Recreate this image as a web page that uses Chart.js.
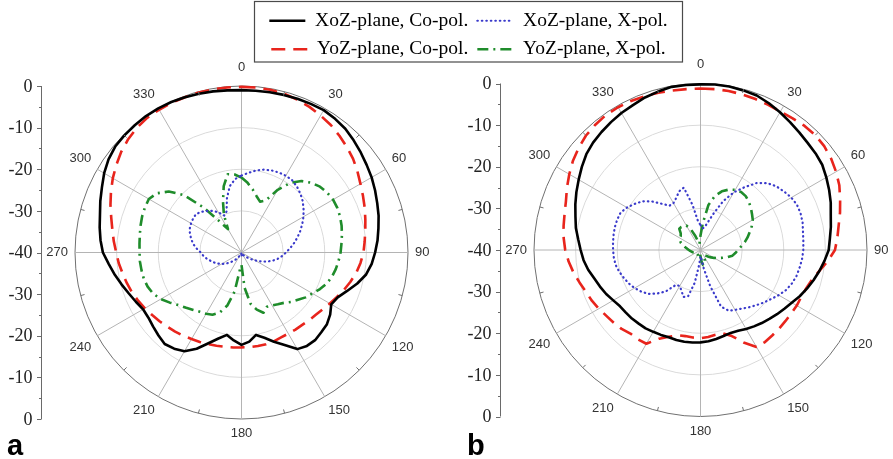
<!DOCTYPE html>
<html>
<head>
<meta charset="utf-8">
<script src="https://cdn.jsdelivr.net/npm/chart.js@4.4.1/dist/chart.umd.min.js"></script>
<style>
html, body {
  margin: 0;
  padding: 0;
  background: #fff;
  overflow: hidden;
}
#wrap {
  position: relative;
  width: 893px;
  height: 459px;
}
</style>
</head>
<body>
<div id="wrap"><canvas id="chart" width="893" height="459"></canvas></div>
<script>
// angle categories in degrees (5 deg step)
var angles = [0,5,10,15,20,25,30,35,40,45,50,55,60,65,70,75,80,85,90,95,100,105,110,115,
  120,125,130,135,140,145,150,155,160,165,170,175,180,185,190,195,200,205,210,215,220,225,230,235,
  240,245,250,255,260,265,270,275,280,285,290,295,300,305,310,315,320,325,330,335,340,345,350,355];
// angle tick labels and radial (dB) tick labels
var angleTicks = [0,30,60,90,120,150,180,210,240,270,300,330];
var dbTicks = [0,-10,-20,-30,-40];
var dbMinor = [-5,-15,-25,-35];

// panel a (dB)
var aXozCo = [-1.0,-1.0,-0.9,-0.8,-0.7,-0.6,-0.5,-0.8,-1.2,-1.9,-2.6,-3.3,
  -3.9,-4.6,-5.3,-5.9,-6.6,-7.2,-7.9,-8.6,-9.6,-11.2,-13.0,-14.5,
  -15.1,-14.0,-13.2,-12.9,-12.5,-12.6,-13.2,-15.5,-17.2,-18.8,-19.9,-18.5,
  -17.8,-18.8,-19.9,-18.6,-16.8,-14.5,-12.6,-11.8,-11.3,-11.8,-12.3,-12.7,
  -12.7,-12.0,-11.2,-10.2,-9.1,-8.0,-6.7,-6.0,-5.4,-4.8,-3.9,-3.0,
  -1.9,-1.0,-0.4,-0.2,-0.1,0,0,-0.1,-0.3,-0.5,-0.7,-0.9];
var aYozCo = [-0.2,-0.2,-0.3,-0.5,-0.9,-1.4,-2.0,-2.6,-3.4,-4.2,-5.0,-6.0,
  -7.0,-7.8,-8.5,-9.2,-9.8,-10.3,-10.7,-11.3,-12.0,-12.9,-13.8,-14.7,
  -15.5,-16.2,-16.7,-17.0,-17.3,-17.4,-17.5,-17.5,-17.3,-17.2,-17.2,-17.2,
  -17.2,-17.1,-17.0,-16.8,-16.6,-16.3,-16.0,-15.6,-15.2,-14.8,-14.3,-13.8,
  -13.2,-12.6,-12.0,-11.5,-11.0,-10.4,-9.9,-9.2,-8.5,-7.6,-6.5,-5.4,
  -4.3,-3.3,-2.3,-1.5,-0.9,-0.5,-0.4,-0.3,-0.3,-0.2,-0.2,-0.2];
var aXozX = [-21.5,-20.8,-20.0,-19.4,-19.0,-18.8,-18.7,-18.8,-19.3,-20.0,-20.8,-21.8,
  -22.8,-23.9,-25.0,-26.1,-27.2,-28.3,-29.3,-30.2,-31.2,-32.3,-33.6,-35.0,
  -36.2,-37.2,-38.0,-38.6,-39.0,-39.3,-39.5,-39.6,-39.7,-39.8,-39.8,-39.5,
  -39.0,-39.5,-39.8,-39.8,-39.6,-39.3,-39.0,-38.5,-37.8,-37.0,-36.2,-35.3,
  -34.5,-33.7,-33.0,-32.3,-31.5,-30.8,-30.2,-29.2,-28.2,-27.5,-26.8,-26.3,
  -26.0,-25.8,-25.7,-26.2,-27.0,-27.8,-28.8,-30.2,-29.5,-26.5,-23.8,-22.3];
var aYozX = [-22.0,-23.2,-24.6,-26.0,-27.0,-26.2,-22.6,-19.6,-17.6,-16.3,-15.4,-14.9,
  -14.6,-14.6,-14.8,-15.1,-15.5,-15.9,-16.2,-16.6,-17.0,-17.5,-18.2,-19.2,
  -20.3,-21.2,-22.3,-23.2,-24.2,-24.8,-25.3,-25.6,-24.6,-25.8,-27.5,-31.5,
  -37.0,-36.0,-30.5,-26.8,-24.6,-23.5,-23.0,-22.6,-22.0,-21.2,-20.3,-19.0,
  -17.6,-16.6,-16.0,-15.7,-15.6,-15.5,-15.5,-15.4,-15.2,-14.9,-14.6,-14.4,
  -14.3,-15.2,-17.2,-20.5,-26.0,-31.0,-33.5,-30.0,-27.0,-23.5,-20.9,-21.2];

// panel b (dB)
var bXozCo = [-0.2,-0.1,-0.1,-0.3,-0.5,-1.1,-1.8,-2.5,-3.1,-3.6,-3.9,-4.3,
  -5.1,-5.9,-6.7,-7.6,-8.2,-8.8,-9.2,-10.1,-11.0,-11.9,-12.8,-13.7,
  -14.7,-15.4,-16.0,-16.6,-17.1,-17.6,-18.1,-18.6,-18.8,-18.6,-18.3,-18.0,
  -17.8,-17.7,-17.6,-17.6,-17.7,-17.5,-17.3,-17.0,-16.9,-16.7,-16.6,-16.4,
  -15.8,-15.0,-14.3,-13.6,-12.6,-11.8,-11.2,-10.5,-9.6,-8.9,-8.0,-7.1,
  -6.2,-5.2,-4.2,-3.5,-3.0,-2.5,-2.0,-1.6,-1.0,-0.6,-0.2,-0.2];
var bYozCo = [-1.2,-1.2,-1.2,-1.3,-1.4,-1.5,-1.6,-1.4,-1.1,-1.0,-1.2,-1.7,
  -2.4,-3.2,-4.3,-5.3,-6.3,-7.0,-7.7,-9.3,-11.0,-12.3,-13.0,-13.3,
  -13.3,-13.4,-13.4,-13.3,-13.2,-13.0,-13.1,-15.5,-18.0,-19.3,-19.3,-19.0,
  -18.8,-18.9,-19.0,-18.8,-17.8,-16.5,-14.0,-13.8,-13.8,-13.2,-12.8,-12.4,
  -11.8,-11.2,-10.7,-9.9,-9.0,-8.2,-7.5,-7.0,-6.6,-6.2,-5.6,-4.6,
  -3.6,-2.6,-1.8,-1.1,-0.7,-0.4,-0.4,-0.5,-0.7,-0.9,-1.1,-1.2];
var bXozX = [-34.0,-34.8,-34.5,-33.0,-30.5,-27.0,-24.0,-21.6,-19.0,-17.3,-16.2,-15.5,
  -14.8,-14.4,-14.4,-14.6,-15.0,-15.2,-15.3,-15.5,-15.8,-16.1,-16.6,-17.3,
  -18.3,-19.4,-20.3,-21.2,-22.0,-22.8,-23.4,-23.9,-25.5,-31.0,-35.5,-38.0,
  -38.5,-36.5,-32.0,-28.5,-28.0,-29.2,-30.0,-29.8,-27.0,-25.2,-23.6,-22.6,
  -21.7,-21.0,-20.4,-19.8,-19.3,-19.1,-19.0,-18.9,-18.8,-18.7,-18.7,-18.8,
  -19.6,-20.7,-21.8,-23.5,-25.5,-27.0,-27.0,-26.2,-25.0,-24.5,-29.0,-33.0];
var bYozX = [-36.5,-33.5,-29.0,-26.5,-25.0,-24.0,-23.3,-23.0,-23.1,-23.6,-24.2,-24.9,
  -25.5,-26.4,-27.4,-28.3,-29.2,-30.2,-31.0,-31.6,-32.2,-33.4,-34.5,-35.4,
  -36.2,-36.9,-37.5,-38.0,-38.3,-38.5,-38.2,-37.6,-36.9,-36.4,-36.3,-37.2,
  -38.5,-39.0,-39.0,-38.6,-38.3,-38.5,-38.8,-39.0,-39.0,-39.0,-38.9,-38.8,
  -38.6,-38.4,-38.2,-38.0,-37.8,-37.5,-37.2,-36.8,-36.3,-35.7,-35.0,-34.5,
  -34.2,-34.2,-33.8,-32.8,-32.8,-33.0,-33.2,-34.5,-36.5,-38.0,-38.5,-38.0];

var seriesNames = ['XoZ-plane, Co-pol.', 'XoZ-plane, X-pol.', 'YoZ-plane, Co-pol.', 'YoZ-plane, X-pol.'];

// where each polar panel sits on the page
var panels = {
  ra: { cx: 241.5, cy: 252.5, r: 166.5, axisX: 41.5, letter: 'a', lx: 7 },
  rb: { cx: 700.5, cy: 250, r: 166.5, axisX: 500.5, letter: 'b', lx: 467 }
};

var sansFont = '"Liberation Sans", Arial, sans-serif';
var serifFont = '"Liberation Serif", "Times New Roman", serif';

function radial(id) {
  var p = panels[id];
  return {
    type: 'radialLinear',
    axis: 'r',
    min: -40,
    max: 0,
    startAngle: 0,
    ticks: { display: false, stepSize: 10 },
    grid: {
      circular: true,
      color: function (c) { return c.tick && c.tick.value === 0 ? '#707070' : '#dadada'; },
      lineWidth: function (c) { return c.tick && c.tick.value === -40 ? 0 : 1; }
    },
    angleLines: {
      color: '#b4b4b4',
      lineWidth: function (c) { return angleTicks.indexOf(angles[c.index]) >= 0 ? 1 : 0; }
    },
    pointLabels: {
      display: true,
      padding: function (c) { return c.index === 0 ? 11 : 7; },
      color: '#333',
      font: { family: sansFont, size: 13 },
      callback: function (label) { return angleTicks.indexOf(label) >= 0 ? String(label) : ''; }
    },
    // put the circle where the panel is, not in the middle of the chart area
    afterSetDimensions: function (s) {
      s.left = 0; s.top = 0; s.right = 893; s.bottom = 459;
      s.width = 893; s.height = 459;
      s.xCenter = p.cx;
      s.yCenter = p.cy;
      s.drawingArea = p.r;
    }
  };
}

function ds(label, data, rid, color, width, dash, cap) {
  return {
    label: label,
    data: data,
    rAxisID: rid,
    borderColor: color,
    backgroundColor: color,
    borderWidth: width,
    borderDash: dash,
    borderCapStyle: cap,
    borderJoinStyle: 'round',
    fill: false,
    pointRadius: 0,
    pointHoverRadius: 0,
    tension: 0,
    clip: false
  };
}

var black = '#000000', red = '#e8241c', blue = '#3a3acb', green = '#1f8c2b';
var dashRed = [14, 8], dotBlue = [0.5, 4], dashDotGreen = [11, 5, 2, 5];

var datasets = [
  ds(seriesNames[0], aXozCo, 'ra', black, 2.6, [], 'butt'),
  ds(seriesNames[1], aXozX, 'ra', blue, 2.2, dotBlue, 'round'),
  ds(seriesNames[2], aYozCo, 'ra', red, 2.6, dashRed, 'butt'),
  ds(seriesNames[3], aYozX, 'ra', green, 2.6, dashDotGreen, 'butt'),
  ds(seriesNames[0], bXozCo, 'rb', black, 2.6, [], 'butt'),
  ds(seriesNames[1], bXozX, 'rb', blue, 2.2, dotBlue, 'round'),
  ds(seriesNames[2], bYozCo, 'rb', red, 2.6, dashRed, 'butt'),
  ds(seriesNames[3], bYozX, 'rb', green, 2.6, dashDotGreen, 'butt')
];

// left dB axis, outer circle ticks, legend frame, panel letters
var decor = {
  id: 'decor',
  afterDraw: function (chart) {
    var ctx = chart.ctx;
    var lg = chart.legend;
    ctx.save();
    ctx.strokeStyle = '#4a4a4a';
    ctx.lineWidth = 1.2;
    ctx.strokeRect(lg.left + 0.5, 1.5, lg.width - 1, 60.5);

    Object.keys(panels).forEach(function (id) {
      var p = panels[id];
      var s = chart.scales[id];
      var yc = s.yCenter;
      var full = s.getDistanceFromCenterForValue(0);
      ctx.strokeStyle = '#6a6a6a';
      ctx.lineWidth = 1;
      ctx.beginPath();
      ctx.moveTo(p.axisX, yc - full);
      ctx.lineTo(p.axisX, yc + full);
      ctx.stroke();

      ctx.fillStyle = '#222';
      ctx.font = '18px ' + serifFont;
      ctx.textAlign = 'right';
      ctx.textBaseline = 'middle';
      dbTicks.forEach(function (t) {
        var d = s.getDistanceFromCenterForValue(t);
        var ys = d > 0 ? [yc - d, yc + d] : [yc];
        ys.forEach(function (y) {
          ctx.beginPath();
          ctx.moveTo(p.axisX - 4.5, Math.round(y) + 0.5);
          ctx.lineTo(p.axisX, Math.round(y) + 0.5);
          ctx.stroke();
          ctx.fillText(String(t), p.axisX - 9, y + 1);
        });
      });
      dbMinor.forEach(function (t) {
        var d = s.getDistanceFromCenterForValue(t);
        [yc - d, yc + d].forEach(function (y) {
          ctx.beginPath();
          ctx.moveTo(p.axisX - 2.5, Math.round(y) + 0.5);
          ctx.lineTo(p.axisX, Math.round(y) + 0.5);
          ctx.stroke();
        });
      });

      // small ticks on the outer circle, half way between the angle labels
      ctx.strokeStyle = '#707070';
      angles.forEach(function (a, i) {
        if (a % 30 !== 15) return;
        var p1 = s.getPointPosition(i, full);
        var p2 = s.getPointPosition(i, full - 4);
        ctx.beginPath();
        ctx.moveTo(p1.x, p1.y);
        ctx.lineTo(p2.x, p2.y);
        ctx.stroke();
      });

      ctx.fillStyle = '#000';
      ctx.font = 'bold 29px ' + sansFont;
      ctx.textAlign = 'left';
      ctx.textBaseline = 'alphabetic';
      ctx.fillText(p.letter, p.lx, 455);
    });
    ctx.restore();
  }
};

new Chart(document.getElementById('chart'), {
  type: 'radar',
  data: { labels: angles, datasets: datasets },
  options: {
    responsive: false,
    animation: false,
    devicePixelRatio: 1,
    events: [],
    layout: { padding: { left: 254, right: 210, top: 2, bottom: 0 } },
    scales: { ra: radial('ra'), rb: radial('rb') },
    plugins: {
      tooltip: { enabled: false },
      legend: {
        position: 'top',
        labels: {
          usePointStyle: true,
          pointStyle: 'line',
          pointStyleWidth: 36,
          padding: 9,
          color: '#000',
          font: { family: serifFont, size: 19.5 },
          filter: function (item) { return item.datasetIndex < 4; },
          sort: function (x, y) { return x.datasetIndex - y.datasetIndex; },
          generateLabels: function (chart) {
            var items = Chart.defaults.plugins.legend.labels.generateLabels(chart);
            items.forEach(function (it) {
              var d = chart.data.datasets[it.datasetIndex];
              it.strokeStyle = d.borderColor;
              it.lineWidth = d.borderWidth;
              it.lineDash = d.borderDash;
              it.lineCap = d.borderCapStyle;
              it.pointStyle = 'line';
              it.rotation = 0;
            });
            return items;
          }
        }
      }
    }
  },
  plugins: [decor]
});
</script>
</body>
</html>
